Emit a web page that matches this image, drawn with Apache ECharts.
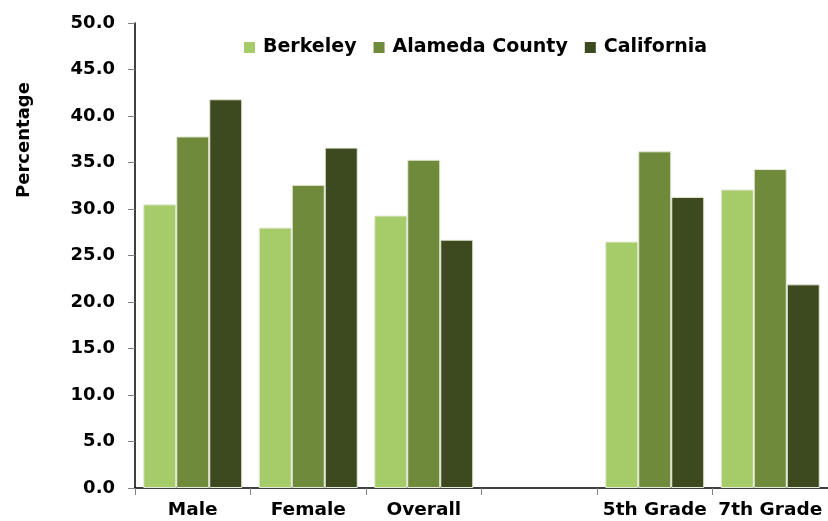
<!DOCTYPE html>
<html>
<head>
<meta charset="utf-8">
<script src="https://cdn.jsdelivr.net/npm/echarts@6/dist/echarts.min.js"></script>
<style>
  html, body { margin: 0; padding: 0; background: #fff; }
  #chart { width: 828px; height: 521px; }
</style>
</head>
<body>
<div id="chart"></div>
<script>
const categories = ["Male", "Female", "Overall", "", "5th Grade", "7th Grade"]
const berkeley = [30.5, 28.0, 29.3, null, 26.5, 32.1]
const alameda = [37.8, 32.6, 35.3, null, 36.2, 34.3]
const california = [41.8, 36.6, 26.7, null, 31.3, 21.9]

const font = "DejaVu Sans, Verdana, sans-serif"

const chart = echarts.init(document.getElementById("chart"))

const barStyle = (color) => ({
  color: color,
  borderColor: "#e6ead8",
  borderWidth: 1
})

chart.setOption({
  animation: false,
  textStyle: { fontFamily: font },
  legend: {
    top: 33,
    left: 239,
    icon: "rect",
    itemWidth: 11,
    itemHeight: 11,
    itemGap: 17,
    itemStyle: { borderWidth: 0 },
    textStyle: { fontSize: 19, fontWeight: "bold", color: "#000", fontFamily: font, padding: [0, 0, 0, 3] },
    data: ["Berkeley", "Alameda County", "California"]
  },
  graphic: [{
    type: "text",
    x: 24,
    y: 140,
    rotation: Math.PI / 2,
    style: {
      text: "Percentage",
      fontSize: 18,
      fontWeight: "bold",
      fontFamily: font,
      fill: "#000",
      align: "center",
      verticalAlign: "middle"
    }
  }],
  grid: { left: 135, right: 0, top: 23, bottom: 33 },
  xAxis: {
    type: "category",
    data: categories,
    axisLine: { lineStyle: { color: "#000", width: 1.5 } },
    axisTick: { show: true, length: 7, lineStyle: { color: "#808080" } },
    axisLabel: { interval: 0, hideOverlap: false, fontSize: 18.5, fontWeight: "bold", color: "#000", margin: 13, fontFamily: font }
  },
  yAxis: {
    type: "value",
    min: 0,
    max: 50,
    interval: 5,
    axisLine: { show: true, lineStyle: { color: "#000", width: 1.5 } },
    axisTick: { show: true, length: 7, lineStyle: { color: "#808080" } },
    splitLine: { show: false },
    axisLabel: {
      fontSize: 18, fontWeight: "bold", color: "#000", margin: 20, fontFamily: font,
      formatter: (v) => v.toFixed(1)
    }
  },
  series: [
    { name: "Berkeley", type: "bar", data: berkeley, barWidth: 33, barGap: "0%", itemStyle: barStyle("#a6cc6a") },
    { name: "Alameda County", type: "bar", data: alameda, barWidth: 33, itemStyle: barStyle("#6e8a3a") },
    { name: "California", type: "bar", data: california, barWidth: 33, itemStyle: barStyle("#3d4a1f") }
  ]
})
</script>
</body>
</html>
